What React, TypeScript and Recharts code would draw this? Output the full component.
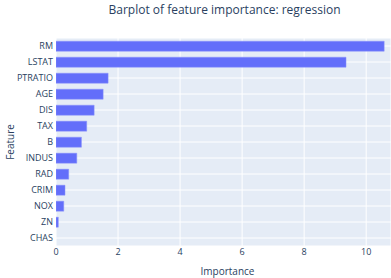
import React from 'react';
import { BarChart, Bar, XAxis, YAxis, CartesianGrid } from 'recharts';

const features = ['RM', 'LSTAT', 'PTRATIO', 'AGE', 'DIS', 'TAX', 'B', 'INDUS', 'RAD', 'CRIM', 'NOX', 'ZN', 'CHAS'];
const importance = [10.58, 9.35, 1.68, 1.52, 1.23, 0.99, 0.82, 0.67, 0.41, 0.29, 0.25, 0.075, 0.0];
const xTicks = [0, 2, 4, 6, 8, 10];

const data = features.map((f, i) => ({ feature: f, importance: importance[i] }));

const FONT = '"Open Sans", verdana, arial, sans-serif';
const TEXT = '#2a3f5f';

export default function App() {
  return (
    <div style={{ position: 'absolute', left: 0, top: 0, width: 391, height: 278, background: '#fff', fontFamily: FONT }}>
      <BarChart
        width={391}
        height={278}
        data={data}
        layout="vertical"
        margin={{ top: 38, right: 0, bottom: 12, left: 0 }}
        barCategoryGap="20%"
      >
        <CartesianGrid fill="#E5ECF6" stroke="#ffffff" strokeWidth={1} />
        <XAxis
          type="number"
          domain={[0, 10.8]}
          ticks={xTicks}
          height={20}
          axisLine={false}
          tickLine={false}
          tickSize={0}
          tickMargin={3}
          tick={{ fontSize: 9, fill: TEXT, fontFamily: FONT }}
          allowDataOverflow
        />
        <YAxis
          type="category"
          dataKey="feature"
          width={56}
          axisLine={false}
          tickLine={false}
          tickSize={0}
          tickMargin={3}
          interval={0}
          tick={{ fontSize: 9, fill: TEXT, fontFamily: FONT }}
        />
        <Bar dataKey="importance" fill="#636EFA" stroke="#8a93fb" strokeWidth={0.5} isAnimationActive={false} />
      </BarChart>
      <div style={{ position: 'absolute', left: 0, width: 449, top: 1, textAlign: 'center', fontSize: 12, color: TEXT, whiteSpace: 'nowrap' }}>
        Barplot of feature importance: regression
      </div>
      <div style={{ position: 'absolute', left: 0, width: 455, top: 264, textAlign: 'center', fontSize: 10, color: TEXT, whiteSpace: 'nowrap' }}>
        Importance
      </div>
      <div style={{ position: 'absolute', left: 10, top: 142, transform: 'translate(-50%, -50%) rotate(-90deg)', fontSize: 10, color: TEXT, whiteSpace: 'nowrap' }}>
        Feature
      </div>
    </div>
  );
}
